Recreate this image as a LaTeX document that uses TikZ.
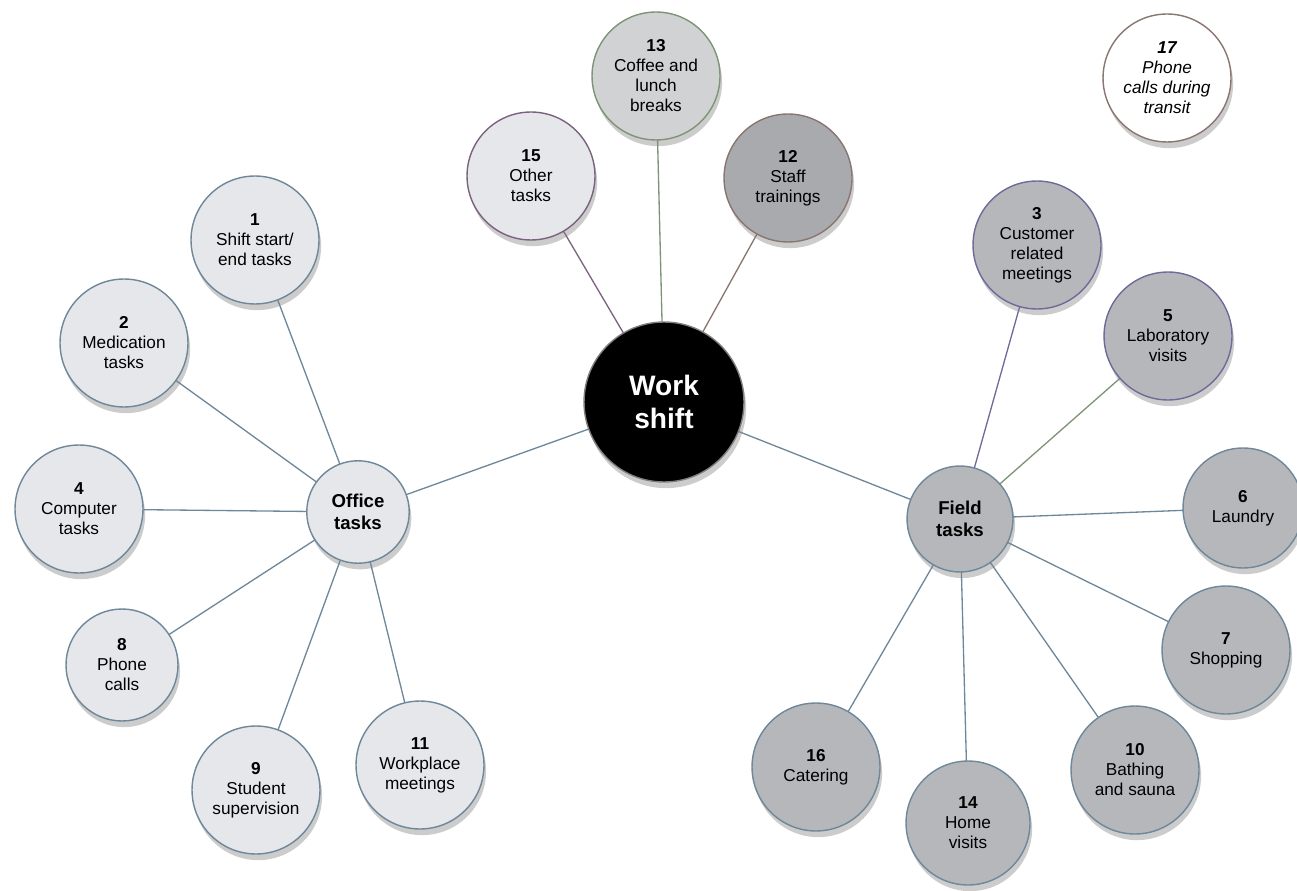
\documentclass[tikz,border=0pt]{standalone}
\usepackage{fontspec}
\setmainfont{Liberation Sans}
\usetikzlibrary{shadows,backgrounds}

\definecolor{pale}{HTML}{E6E7EA}
\definecolor{mid}{HTML}{D1D2D4}
\definecolor{dark}{HTML}{A8AAAD}
\definecolor{fieldgrey}{HTML}{B5B7BA}
\definecolor{steel}{HTML}{6E8799}
\definecolor{plum}{HTML}{7B627F}
\definecolor{sage}{HTML}{7E9478}
\definecolor{umber}{HTML}{8A7670}
\definecolor{iris}{HTML}{6F6A99}

\begin{document}
\begin{tikzpicture}[x=0.02cm,y=-0.02cm,
	task/.style={circle,draw=steel,line width=0.8pt,fill=pale,inner sep=0pt,
		minimum size=2.56cm,align=center,font=\fontsize{9.8}{11.4}\selectfont,
		drop shadow={shadow xshift=1.2pt,shadow yshift=-3.5pt,opacity=0.4}},
	ftask/.style={task,fill=fieldgrey},
	hub/.style={task,minimum size=2.05cm,font=\fontsize{10.6}{12.5}\selectfont\bfseries},
	link/.style={draw=steel,line width=0.75pt}]

	\useasboundingbox (0,0) rectangle (1297,891);

	\node[circle,fill=black,draw=gray,line width=0.8pt,minimum size=3.2cm,align=center,
		font=\fontsize{16}{19}\selectfont\bfseries,text=white,
		drop shadow={shadow xshift=1.2pt,shadow yshift=-3.5pt,opacity=0.4}] (ws) at (664,402) {Work\\shift};

	% office side
	\node[hub] (office) at (358,512) {Office\\tasks};
	\node[task] (t1) at (255,240) {\textbf{1}\\Shift start/\\end tasks};
	\node[task] (t2) at (124,343) {\textbf{2}\\Medication\\tasks};
	\node[task] (t4) at (79,509) {\textbf{4}\\Computer\\tasks};
	\node[task,minimum size=2.24cm] (t8) at (122,665) {\textbf{8}\\Phone\\calls};
	\node[task] (t9) at (256,790) {\textbf{9}\\Student\\supervision};
	\node[task] (t11) at (420,765) {\textbf{11}\\Workplace\\meetings};

	% top
	\node[task,draw=plum] (t15) at (531,176) {\textbf{15}\\Other\\tasks};
	\node[task,draw=sage,fill=mid] (t13) at (656,76) {\textbf{13}\\Coffee and\\lunch\\breaks};
	\node[task,draw=umber,fill=dark] (t12) at (788,178) {\textbf{12}\\Staff\\trainings};
	\node[task,draw=umber,fill=white,font=\fontsize{9.8}{11.4}\selectfont\itshape] (t17) at (1167,78) {\textbf{17}\\Phone\\calls during\\transit};

	% field side
	\node[hub,fill=fieldgrey,minimum size=2.12cm] (field) at (960,519) {Field\\tasks};
	\node[ftask,draw=iris] (t3) at (1037,245) {\textbf{3}\\Customer\\related\\meetings};
	\node[ftask,draw=iris] (t5) at (1168,336) {\textbf{5}\\Laboratory\\visits};
	\node[ftask,minimum size=2.4cm] (t6) at (1243,508) {\textbf{6}\\Laundry};
	\node[ftask] (t7) at (1226,650) {\textbf{7}\\Shopping};
	\node[ftask] (t10) at (1135,770) {\textbf{10}\\Bathing\\and sauna};
	\node[ftask,minimum size=2.48cm] (t14) at (968,823) {\textbf{14}\\Home\\visits};
	\node[ftask] (t16) at (816,767) {\textbf{16}\\Catering};

	\begin{scope}[on background layer]
		\draw[link] (ws.center) -- (office.center);
		\draw[link] (ws.center) -- (field.center);
		\foreach \t in {t1,t2,t4,t8,t9,t11}
			\draw[link] (office.center) -- (\t.center);
		\foreach \t in {t6,t7,t10,t14,t16}
			\draw[link] (field.center) -- (\t.center);
		\draw[link,draw=iris] (field.center) -- (t3.center);
		\draw[link,draw=sage] (field.center) -- (t5.center);
		\draw[link,draw=plum] (ws.center) -- (t15.center);
		\draw[link,draw=sage] (ws.center) -- (t13.center);
		\draw[link,draw=umber] (ws.center) -- (t12.center);
	\end{scope}

\end{tikzpicture}
\end{document}
